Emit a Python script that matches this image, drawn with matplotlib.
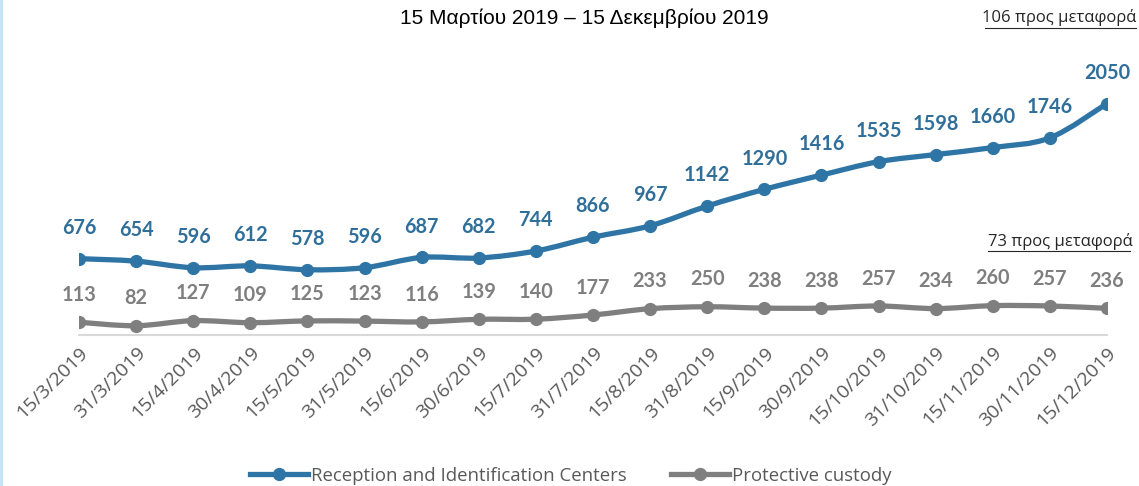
import matplotlib
matplotlib.use("Agg")
import matplotlib.pyplot as plt
from matplotlib.path import Path
from matplotlib.patches import PathPatch
from matplotlib.lines import Line2D
import numpy as np

dates = ["15/3/2019", "31/3/2019", "15/4/2019", "30/4/2019", "15/5/2019", "31/5/2019",
         "15/6/2019", "30/6/2019", "15/7/2019", "31/7/2019", "15/8/2019", "31/8/2019",
         "15/9/2019", "30/9/2019", "15/10/2019", "31/10/2019", "15/11/2019", "30/11/2019",
         "15/12/2019"]
ric = [676, 654, 596, 612, 578, 596, 687, 682, 744, 866, 967, 1142, 1290, 1416, 1535,
       1598, 1660, 1746, 2050]
custody = [113, 82, 127, 109, 125, 123, 116, 139, 140, 177, 233, 250, 238, 238, 257,
           234, 260, 257, 236]
series_names = ["Reception and Identification Centers", "Protective custody"]
title = "15 Μαρτίου 2019 – 15 Δεκεμβρίου 2019"
note_top = "106 προς μεταφορά"
note_mid = "73 προς μεταφορά"

BLUE = "#2e75a6"
BLUE_LBL = "#2f6f9a"
GRAY = "#7f7f7f"
GRAY_LBL = "#7f7f7f"

fig = plt.figure(figsize=(11.39, 4.86), dpi=100)
ax = fig.add_axes([79/1139, 151/486, 1028/1139, 271/486])
ax.set_xlim(0, len(dates) - 1)
ax.set_ylim(0, 2400)


def smooth_path(x, y, t=1/6):
    verts = [(x[0], y[0])]
    codes = [Path.MOVETO]
    n = len(x)
    for i in range(n - 1):
        p0 = (x[i - 1], y[i - 1]) if i > 0 else (x[i], y[i])
        p1 = (x[i], y[i])
        p2 = (x[i + 1], y[i + 1])
        p3 = (x[i + 2], y[i + 2]) if i + 2 < n else (x[i + 1], y[i + 1])
        c1 = (p1[0] + (p2[0] - p0[0]) * t, p1[1] + (p2[1] - p0[1]) * t)
        c2 = (p2[0] - (p3[0] - p1[0]) * t, p2[1] - (p3[1] - p1[1]) * t)
        verts += [c1, c2, p2]
        codes += [Path.CURVE4] * 3
    return Path(verts, codes)


xs = np.arange(len(dates))
for vals, col, lcol, off in [(ric, BLUE, BLUE_LBL, 15), (custody, GRAY, GRAY_LBL, 12.5)]:
    ax.add_patch(PathPatch(smooth_path(xs, vals), facecolor="none", edgecolor=col,
                           lw=3.8, capstyle="round", joinstyle="round", zorder=3))
    ax.plot(xs, vals, ls="none", marker="o", ms=8.5, color=col, zorder=4)
    for xi, v in zip(xs, vals):
        ax.annotate(f"{v}", (xi, v), xytext=(0, off), textcoords="offset points",
                    ha="center", va="bottom", fontsize=14.3, fontweight="bold",
                    color=lcol, family="Lato", annotation_clip=False)

for s in ["top", "right", "left"]:
    ax.spines[s].set_visible(False)
ax.spines["bottom"].set_color("#d9d9d9")
ax.spines["bottom"].set_linewidth(1.5)
ax.set_yticks([])
ax.set_xticks(xs)
ax.set_xticklabels(dates, rotation=45, ha="right", rotation_mode="anchor",
                   fontsize=14, color="#595959", family="Open Sans")
ax.tick_params(axis="x", length=0, pad=6)

fig.text(584/1139, 1 - 18/486, title, ha="center", va="center", fontsize=15,
         family="Liberation Sans", color="black")
fig.text(1136/1139, 1 - 18/486, note_top, ha="right", va="center", fontsize=12,
         family="Open Sans", color="#262626")
fig.add_artist(Line2D([985/1139, 1136/1139], [1 - 28/486] * 2, color="#262626", lw=0.8))
fig.text(988/1139, 1 - 241/486, note_mid, ha="left", va="center", fontsize=12,
         family="Open Sans", color="#262626")
fig.add_artist(Line2D([988/1139, 1130/1139], [1 - 251/486] * 2, color="#262626", lw=0.8))

# legend
h1 = Line2D([], [], color=BLUE, lw=3.8, marker="o", ms=8.5)
h2 = Line2D([], [], color=GRAY, lw=3.8, marker="o", ms=8.5)
fig.legend([h1, h2], series_names, loc="center", bbox_to_anchor=(571/1139, 1 - 476/486),
           ncol=2, frameon=False, prop={"family": "Open Sans", "size": 13.4},
           labelcolor="#595959", handlelength=3.1, handletextpad=0.15, columnspacing=2.4)

# left border
fig.add_artist(Line2D([0.001, 0.001], [0, 1], color="#bfe3f7", lw=2))

fig.savefig("out.png", dpi=100)
